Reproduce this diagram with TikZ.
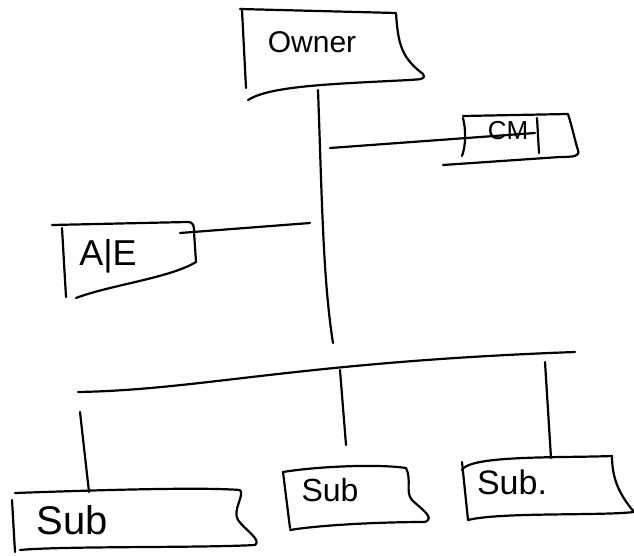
\documentclass[tikz,border=0pt]{standalone}
\usepackage{fontspec}
\setmainfont{Liberation Sans}
\begin{document}
\begin{tikzpicture}[x=1pt,y=-1pt,
  ink/.style={line width=2.2pt,line cap=round,line join=round},
  lbl/.style={inner sep=0pt}]
\useasboundingbox (0,0) rectangle (634,556);
% Owner
\draw[ink] (242,10) -- (246,88);
\draw[ink] (240,9) -- (396,13) .. controls (398,45) and (402,58) .. (423,74)
  .. controls (426,80) and (420,79) .. (410,80) .. controls (330,84) and (270,86) .. (248,100);
\node[lbl,font=\fontsize{30}{32}\selectfont] (owner) at (312,42) {Owner};
\coordinate (trunkTop) at (318,90);
\coordinate (trunkBot) at (333,343);
\draw[ink] (trunkTop) .. controls (322,200) and (323,280) .. (trunkBot);
% CM
\draw[ink] (463,118) .. controls (466,130) and (466,145) .. (462,156);
\draw[ink] (463,116) -- (568,114) .. controls (573,130) and (576,145) .. (578,150)
  .. controls (580,156) and (575,157) .. (560,157) -- (443,165);
\draw[ink] (537,118) -- (539,153);
\node[lbl,font=\fontsize{26}{28}\selectfont] (cm) at (508,131) {CM};
\coordinate (cmL) at (330,148);
\coordinate (cmR) at (535,133);
\draw[ink] (cmL) -- (cmR);
% A/E
\draw[ink] (62,228) -- (66,297);
\draw[ink] (52,225) -- (187,222) .. controls (194,222) and (194,226) .. (194,232)
  -- (196,262) .. controls (170,278) and (110,285) .. (76,298);
\node[lbl,font=\fontsize{36}{38}\selectfont] (ae) at (108,256) {A|E};
\coordinate (aeL) at (180,233);
\coordinate (aeR) at (310,223);
\draw[ink] (aeL) -- (aeR);
% bus
\coordinate (busL) at (78,392);
\coordinate (busR) at (575,352);
\draw[ink] (busL) .. controls (200,390) and (300,362) .. (busR);
% Sub 1
\draw[ink] (12,500) -- (15,552);
\draw[ink] (15,493) .. controls (100,490) and (200,487) .. (240,490)
  .. controls (245,495) and (232,510) .. (238,520) .. controls (245,530) and (262,540) .. (255,545)
  .. controls (200,548) and (60,546) .. (20,550);
\node[lbl,font=\fontsize{40}{42}\selectfont] (sub1) at (72,520) {Sub};
% Sub 2
\draw[ink] (283,472) -- (290,528);
\draw[ink] (283,472) .. controls (320,466) and (380,464) .. (406,468)
  .. controls (412,480) and (405,492) .. (412,500) .. controls (420,508) and (436,518) .. (425,522)
  .. controls (380,522) and (320,525) .. (290,530);
\node[lbl,font=\fontsize{32}{34}\selectfont] (sub2) at (330,490) {Sub};
% Sub 3
\draw[ink] (462,462) -- (468,520);
\draw[ink] (462,470) .. controls (470,455) and (560,458) .. (612,456)
  .. controls (612,480) and (620,495) .. (634,512)
  .. controls (600,516) and (500,512) .. (468,520);
\node[lbl,font=\fontsize{34}{36}\selectfont] (sub3) at (512,482) {Sub.};
% drops
\coordinate (d1t) at (80,412);
\coordinate (d2t) at (340,370);
\coordinate (d3t) at (545,362);
\coordinate (d1b) at (89,492);
\coordinate (d2b) at (346,445);
\coordinate (d3b) at (551,458);
\draw[ink] (d1t) -- (d1b);
\draw[ink] (d2t) -- (d2b);
\draw[ink] (d3t) -- (d3b);
\end{tikzpicture}
\end{document}
